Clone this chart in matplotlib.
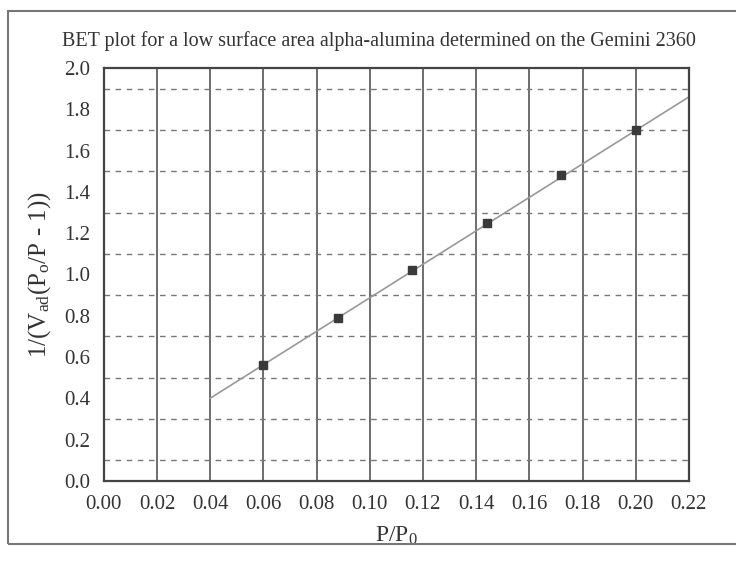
import matplotlib
matplotlib.use("Agg")
import matplotlib.pyplot as plt
import numpy as np
from matplotlib.patches import Rectangle

p_rel = [0.060, 0.088, 0.116, 0.144, 0.172, 0.200]
bet_y = [0.56, 0.79, 1.02, 1.25, 1.48, 1.70]

# 회귀선 끝점
fit_x = [0.04, 0.22]
fit_y = [0.40, 1.86]

x_ticks = [0.00, 0.02, 0.04, 0.06, 0.08, 0.10, 0.12, 0.14, 0.16, 0.18, 0.20, 0.22]
y_ticks = [0.0, 0.2, 0.4, 0.6, 0.8, 1.0, 1.2, 1.4, 1.6, 1.8, 2.0]
y_dash = [0.1, 0.3, 0.5, 0.7, 0.9, 1.1, 1.3, 1.5, 1.7, 1.9]

plt.rcParams["font.family"] = ["Liberation Serif", "DejaVu Serif"]
plt.rcParams["mathtext.fontset"] = "custom"
plt.rcParams["mathtext.rm"] = "Liberation Serif"
plt.rcParams["mathtext.it"] = "Liberation Serif"

fig = plt.figure(figsize=(7.36, 5.67), dpi=100)
ax = fig.add_axes([0.141, 0.152, 0.795, 0.728])

# 격자
for xv in x_ticks[1:-1]:
    ax.axvline(xv, color="#555555", linewidth=1.2, zorder=1)
for yv in y_dash:
    ax.axhline(yv, color="#777777", linewidth=1.0, linestyle=(0, (4, 4)), zorder=1)

ax.plot(fit_x, fit_y, color="#999999", linewidth=1.2, zorder=2)
ax.plot(p_rel, bet_y, linestyle="none", marker="s", markersize=6,
        color="#3a3a3a", zorder=3)

ax.set_xlim(0, 0.22)
ax.set_ylim(0, 2.0)
ax.set_xticks(x_ticks)
ax.set_xticklabels([f"{v:.2f}" for v in x_ticks])
ax.set_yticks(y_ticks)
ax.set_yticklabels([f"{v:.1f}" for v in y_ticks])
ax.tick_params(length=0, labelsize=15, colors="#333333")
ax.tick_params(axis="x", pad=10)
ax.tick_params(axis="y", pad=10)

for sp in ax.spines.values():
    sp.set_color("#444444")
    sp.set_linewidth(1.6)

ax.set_xlabel(r"P/P$_0$", fontsize=17, color="#333333", labelpad=8)
ax.set_ylabel(r"1/(V$_{ad}$(P$_o$/P - 1))", fontsize=18, color="#333333", labelpad=8)
fig.text(0.515, 0.928, "BET plot for a low surface area alpha-alumina determined on the Gemini 2360",
         ha="center", va="center", fontsize=14.5, color="#333333")

# 바깥 테두리
fig.patches.append(Rectangle((0.011, 0.04), 1.2, 0.94, transform=fig.transFigure,
                             fill=False, edgecolor="#777777", linewidth=1.5))

plt.savefig("out.png", dpi=100, facecolor="white")
plt.close()
